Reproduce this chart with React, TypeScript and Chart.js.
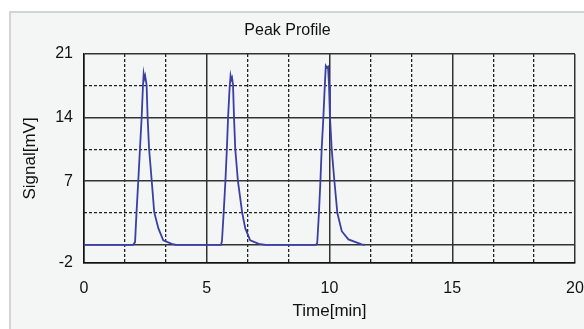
import React, { useEffect, useRef } from "react";
import { Chart, registerables } from "chart.js";

Chart.register(...registerables);

// ---- data ----
const timeMin = [
  0, 2.0, 2.08, 2.14, 2.21, 2.28, 2.35, 2.4, 2.43, 2.46, 2.49, 2.55, 2.59, 2.65, 2.76, 2.86, 3.03, 3.23, 3.57, 3.75,
  5.58, 5.62, 5.69, 5.76, 5.82, 5.87, 5.93, 5.97, 6.0, 6.03, 6.07, 6.11, 6.16, 6.27, 6.44, 6.57, 6.77, 7.12, 7.4,
  9.45, 9.5, 9.57, 9.63, 9.68, 9.75, 9.81, 9.85, 9.9, 9.94, 9.98, 10.02, 10.09, 10.2, 10.32, 10.5, 10.77, 11.31, 11.45,
];
const signalMv = [
  0, 0, 0.3, 3.6, 7.0, 10.6, 14.1, 17.4, 18.8, 18.3, 18.6, 17.6, 14.1, 10.6, 7.0, 3.6, 1.8, 0.5, 0.1, 0,
  0, 0.4, 3.6, 7.0, 10.6, 14.1, 17.2, 18.6, 18.2, 18.4, 17.6, 14.1, 10.6, 7.0, 3.6, 1.8, 0.5, 0.1, 0,
  0, 0.2, 3.5, 7.0, 10.5, 14.0, 17.6, 19.7, 19.5, 19.6, 17.6, 14.0, 10.5, 7.0, 3.5, 1.5, 0.6, 0.05, 0.0,
];
const xMajorTicks = [0, 5, 10, 15, 20];
const xMinorTicks = [5 / 3, 10 / 3, 20 / 3, 25 / 3, 35 / 3, 40 / 3, 50 / 3, 55 / 3];
const yMajorTicks = [-2, 0, 7, 14, 21];
const yMinorTicks = [3.5, 10.5, 17.5];
const yHiddenLabels = [0];

const chartTitle = "Peak Profile";
const xTitle = "Time[min]";
const yTitle = "Signal[mV]";

const FONT = "'Liberation Sans', Arial, sans-serif";

export default function App() {
  const ref = useRef<HTMLCanvasElement | null>(null);

  useEffect(() => {
    const canvas = ref.current;
    if (!canvas) return;

    const panelPlugin = {
      id: "panel",
      beforeDraw(chart: any) {
        const ctx = chart.ctx;
        ctx.save();
        ctx.fillStyle = "#ffffff";
        ctx.fillRect(0, 0, chart.width, chart.height);
        ctx.fillStyle = "#f4f5f5";
        ctx.fillRect(10, 12, chart.width - 10, chart.height - 12);
        ctx.strokeStyle = "#d4d4d4";
        ctx.lineWidth = 2;
        ctx.strokeRect(10, 12, chart.width, chart.height);
        ctx.restore();
      },
    };

    const chart = new Chart(canvas, {
      type: "line",
      data: {
        datasets: [
          {
            data: timeMin.map((t, i) => ({ x: t, y: signalMv[i] })),
            borderColor: "#3a3fa6",
            borderWidth: 1.8,
            pointRadius: 0,
            tension: 0,
            fill: false,
          },
        ],
      },
      options: {
        animation: false,
        responsive: false,
        layout: { padding: { left: 0, right: 9, top: 0, bottom: 0 } },
        plugins: {
          legend: { display: false },
          tooltip: { enabled: false },
          title: {
            display: true,
            text: chartTitle,
            color: "#111",
            font: { family: FONT, size: 16, weight: "normal" },
            padding: { top: 21.4, bottom: 13.4 },
          },
        },
        scales: {
          xMinor: {
            type: "linear",
            position: "bottom",
            min: 0,
            max: 20,
            afterBuildTicks: (s: any) => {
              s.ticks = xMinorTicks.map((v) => ({ value: v }));
            },
            afterFit: (s: any) => {
              s.height = 0;
            },
            ticks: { display: false },
            grid: { color: "#222", lineWidth: 1.3, drawTicks: false },
            border: { display: false, dash: [3, 2] },
          },
          yMinor: {
            type: "linear",
            position: "left",
            min: -2,
            max: 21,
            afterBuildTicks: (s: any) => {
              s.ticks = yMinorTicks.map((v) => ({ value: v }));
            },
            afterFit: (s: any) => {
              s.width = 0;
            },
            ticks: { display: false },
            grid: { color: "#222", lineWidth: 1.3, drawTicks: false },
            border: { display: false, dash: [3, 2] },
          },
          x: {
            type: "linear",
            position: "bottom",
            min: 0,
            max: 20,
            afterBuildTicks: (s: any) => {
              s.ticks = xMajorTicks.map((v) => ({ value: v }));
            },
            afterFit: (s: any) => {
              s.height = 66;
            },
            ticks: {
              color: "#111",
              padding: 0,
              maxRotation: 0,
              autoSkip: false,
              font: { family: FONT, size: 16 },
              callback: (v: any) => String(v),
            },
            grid: {
              color: "#333",
              lineWidth: 1.5,
              drawTicks: true,
              tickLength: 16,
              tickColor: "rgba(0,0,0,0)",
            },
            border: { color: "#111", width: 1.5 },
            title: {
              display: true,
              text: xTitle,
              color: "#111",
              font: { family: FONT, size: 17 },
              padding: { top: 7, bottom: 7 },
            },
          },
          y: {
            type: "linear",
            position: "left",
            min: -2,
            max: 21,
            afterBuildTicks: (s: any) => {
              s.ticks = yMajorTicks.map((v) => ({ value: v }));
            },
            afterFit: (s: any) => {
              s.width = 84;
            },
            ticks: {
              color: "#111",
              padding: 11,
              autoSkip: false,
              font: { family: FONT, size: 16 },
              callback: (v: any) => (yHiddenLabels.includes(Number(v)) ? "" : String(v)),
            },
            grid: { color: "#333", lineWidth: 1.5, drawTicks: false },
            border: { color: "#111", width: 1.5 },
            title: {
              display: true,
              text: yTitle,
              color: "#111",
              font: { family: FONT, size: 17 },
              padding: { top: 20, bottom: 20 },
            },
          },
        },
      },
      plugins: [panelPlugin],
    } as any);

    return () => chart.destroy();
  }, []);

  return (
    <canvas
      ref={ref}
      width={584}
      height={329}
      style={{ position: "fixed", left: 0, top: 0, width: 584, height: 329, display: "block" }}
    />
  );
}
